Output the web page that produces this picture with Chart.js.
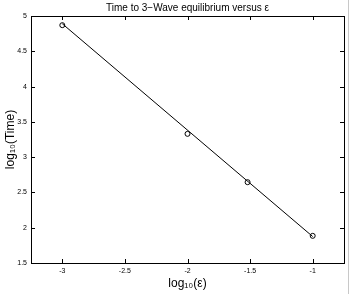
<!DOCTYPE html>
<html>
<head>
<meta charset="utf-8">
<script src="https://cdn.jsdelivr.net/npm/chart.js@4"></script>
<style>
  html, body { margin: 0; padding: 0; background: #fff; }
  #wrap { width: 349px; height: 294px; position: relative; }
</style>
</head>
<body>
<div id="wrap"><canvas id="chart" width="349" height="294"></canvas></div>
<script>
// measured points
const logEps = [-3, -2, -1.52, -1];
const logTime = [4.87, 3.33, 2.645, 1.885];
// fitted line drawn through the data
const fitX = [-3, -1];
const fitY = [4.89, 1.875];

const xTicks = [-3, -2.5, -2, -1.5, -1];
const yTicks = [1.5, 2, 2.5, 3, 3.5, 4, 4.5, 5];

const font = "'Liberation Sans', Arial, sans-serif";

// matlab style: box around the axes, ticks pointing inward on all sides
const boxTicks = {
    id: "boxTicks",
    beforeDraw(chart) {
        // grey figure edge on the right
        chart.ctx.fillStyle = "#c8c8c8";
        chart.ctx.fillRect(chart.width - 1, 0, 1, chart.height);
    },
    afterDraw(chart) {
        const ctx = chart.ctx;
        const a = chart.chartArea;
        const xs = chart.scales.x, ys = chart.scales.y;
        ctx.save();
        ctx.strokeStyle = "#000";
        ctx.lineWidth = 1;
        ctx.strokeRect(Math.round(a.left) + 0.5, Math.round(a.top) + 0.5,
            Math.round(a.right - a.left), Math.round(a.bottom - a.top));
        ctx.beginPath();
        xTicks.forEach(v => {
            const px = Math.round(xs.getPixelForValue(v)) + 0.5;
            ctx.moveTo(px, a.bottom); ctx.lineTo(px, a.bottom - 4);
            ctx.moveTo(px, a.top); ctx.lineTo(px, a.top + 4);
        });
        yTicks.forEach(v => {
            const py = Math.round(ys.getPixelForValue(v)) + 0.5;
            ctx.moveTo(a.left, py); ctx.lineTo(a.left + 4, py);
            ctx.moveTo(a.right, py); ctx.lineTo(a.right - 4, py);
        });
        ctx.stroke();
        ctx.restore();
    }
};

new Chart("chart", {
    type: "scatter",
    data: {
        datasets: [{
            data: fitX.map((x, i) => ({x: x, y: fitY[i]})),
            showLine: true,
            borderColor: "#000",
            borderWidth: 1,
            pointRadius: 0
        }, {
            data: logEps.map((x, i) => ({x: x, y: logTime[i]})),
            showLine: false,
            pointStyle: "circle",
            pointRadius: 2.5,
            pointBorderColor: "#000",
            pointBackgroundColor: "rgba(0,0,0,0)",
            pointBorderWidth: 1
        }]
    },
    options: {
        responsive: false,
        animation: false,
        layout: { padding: { right: 4, left: 0, top: 0, bottom: 0 } },
        plugins: {
            legend: { display: false },
            tooltip: { enabled: false },
            title: {
                display: true,
                fullSize: false,
                text: "Time to 3\u2212Wave equilibrium versus \u03b5",
                color: "#000",
                font: { family: font, size: 10, weight: "normal" },
                padding: { top: 2, bottom: 2 }
            }
        },
        scales: {
            x: {
                type: "linear",
                min: -3.25,
                max: -0.75,
                afterBuildTicks: s => { s.ticks = xTicks.map(v => ({value: v})); },
                afterFit: s => { s.height = 31; },
                grid: { display: false, drawTicks: false },
                border: { display: false },
                ticks: {
                    color: "#000",
                    font: { family: font, size: 7 },
                    padding: 4,
                    maxRotation: 0,
                    callback: v => String(v)
                },
                title: {
                    display: true,
                    text: "log\u2081\u2080(\u03b5)",
                    color: "#000",
                    font: { family: font, size: 12 },
                    padding: { top: 2, bottom: 3.5 }
                }
            },
            y: {
                type: "linear",
                min: 1.5,
                max: 5,
                afterBuildTicks: s => { s.ticks = yTicks.map(v => ({value: v})); },
                afterFit: s => { s.width = 31; },
                grid: { display: false, drawTicks: false },
                border: { display: false },
                ticks: {
                    color: "#000",
                    font: { family: font, size: 7 },
                    padding: 4,
                    callback: v => String(v)
                },
                title: {
                    display: true,
                    text: "log\u2081\u2080(Time)",
                    color: "#000",
                    font: { family: font, size: 12 },
                    padding: { top: 3, bottom: 2 }
                }
            }
        }
    },
    plugins: [boxTicks]
});
</script>
</body>
</html>
